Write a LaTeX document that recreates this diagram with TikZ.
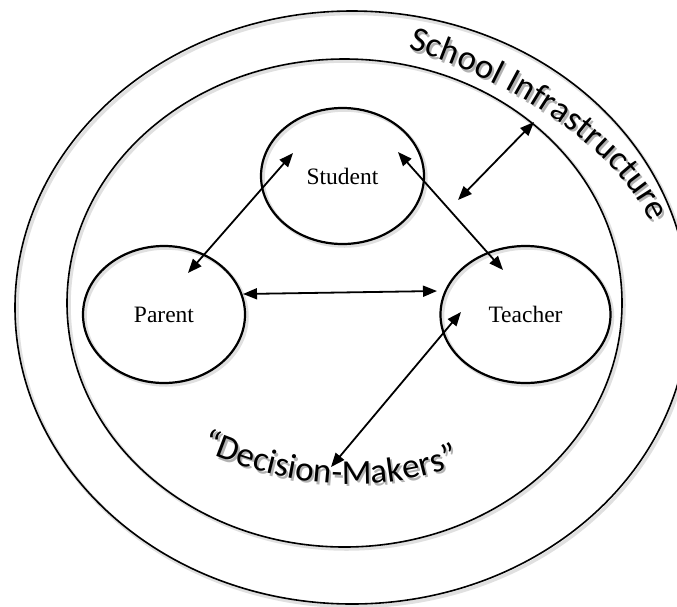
\documentclass[tikz,border=0pt]{standalone}
\usepackage{fontspec}
\setmainfont{Liberation Serif}
\newfontfamily\calib{Carlito}
\usetikzlibrary{arrows.meta,decorations.text,shapes.geometric,calc}
\begin{document}
\begin{tikzpicture}[x=1pt,y=-1pt,
  ring/.style={draw=black, line width=1.6pt},
  actor/.style={draw=black, line width=2.2pt, ellipse, inner sep=0pt,
    font=\fontsize{23.5}{28}\selectfont},
  conn/.style={{Triangle[length=14pt,width=11pt]}-{Triangle[length=14pt,width=11pt]}, line width=1.8pt},
  shade/.style={draw=black!12, line width=3.5pt}
]
\useasboundingbox (0,0) rectangle (677,606);
\clip (0,0) rectangle (677,606);

% soft shadows
\draw[shade] (354,310) ellipse [x radius=337pt, y radius=296.5pt];
\draw[shade] (346.5,305) ellipse [x radius=277.5pt, y radius=244pt];
\draw[shade] (344.5,178) ellipse [x radius=81.5pt, y radius=68pt];
\draw[shade] (166,316.5) ellipse [x radius=81pt, y radius=68.5pt];
\draw[shade] (527.5,316.5) ellipse [x radius=85pt, y radius=68.5pt];

% rings
\draw[ring] (352,307.5) ellipse [x radius=337pt, y radius=296.5pt];
\draw[ring] (344.5,303) ellipse [x radius=277.5pt, y radius=244pt];

% actors
\node[actor, minimum width=163pt, minimum height=136pt] (student) at (342.5,176) {Student};
\node[actor, minimum width=162pt, minimum height=137pt] (parent) at (164,314.5) {Parent};
\node[actor, minimum width=170pt, minimum height=137pt] (teacher) at (525.5,314.5) {Teacher};

% arrow end points
\coordinate (sp1) at (293,153);
\coordinate (sp2) at (188,273);
\coordinate (st1) at (398,152);
\coordinate (st2) at (503,270);
\coordinate (pt1) at (243,294);
\coordinate (pt2) at (437,291);
\coordinate (in1) at (534,122);
\coordinate (in2) at (458,200);
\coordinate (td1) at (461,312);
\coordinate (td2) at (331,467);

\draw[conn] (sp1) -- (sp2);
\draw[conn] (st1) -- (st2);
\draw[conn] (pt1) -- (pt2);
\draw[conn] (in1) -- (in2);
\draw[conn] (td1) -- (td2);

% curved labels (shadow then text)
\path[decorate, decoration={text along path, text align={fit to path},
  text={|\calib\fontsize{35}{40}\selectfont\color{black!30}|School Infrastructure}}]
  (410,51.5) .. controls (515,83.5) and (619.5,151.5) .. (652,224.5);
\path[decorate, decoration={text along path, text align={fit to path},
  text={|\calib\fontsize{35}{40}\selectfont|School Infrastructure}}]
  (408,49) .. controls (513,81) and (617.5,149) .. (650,222);

\path[decorate, decoration={text along path, text align={fit to path},
  text={|\calib\fontsize{35}{40}\selectfont\color{black!30}|“Decision-Makers”}}]
  (203,452.5) .. controls (286,489.5) and (375,499.5) .. (461,467.5);
\path[decorate, decoration={text along path, text align={fit to path},
  text={|\calib\fontsize{35}{40}\selectfont|“Decision-Makers”}}]
  (201,450) .. controls (284,487) and (373,497) .. (459,465);
\end{tikzpicture}
\end{document}
